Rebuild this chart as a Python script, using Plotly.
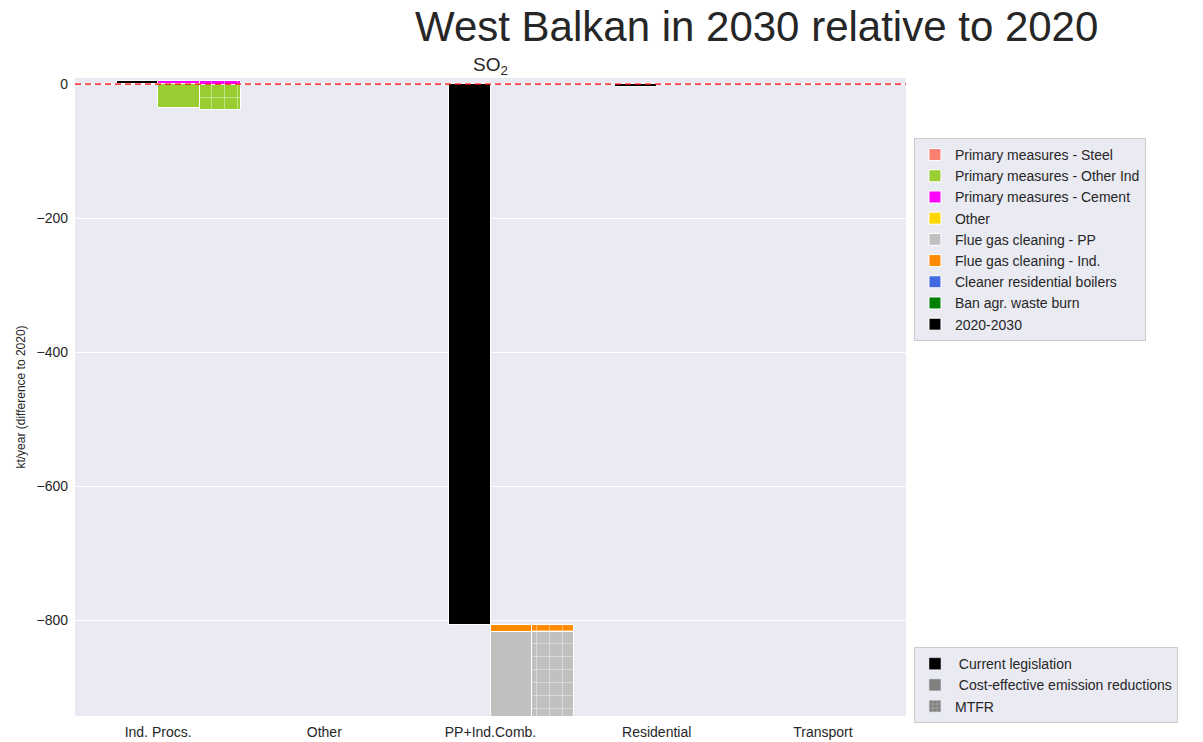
import plotly.graph_objects as go

# Sectors on the x axis
categories = ["Ind. Procs.", "Other", "PP+Ind.Comb.", "Residential", "Transport"]

# Change 2020 -> 2030 under current legislation (kt/year)
cle_change = [5, 0, -807, -5, 0]

# Additional reductions on top of current legislation (kt/year), per measure
measure_names = [
    "Primary measures - Steel",
    "Primary measures - Other Ind",
    "Primary measures - Cement",
    "Other",
    "Flue gas cleaning - PP",
    "Flue gas cleaning - Ind.",
    "Cleaner residential boilers",
    "Ban agr. waste burn",
]
measure_colors = ["#FA8072", "#9ACD32", "#FF00FF", "#FFD700",
                  "#C0C0C0", "#FF8C00", "#4169E1", "#008000"]

# Cost-effective emission reductions
ce_steel = [0, 0, 0, 0, 0]
ce_other_ind = [-36, 0, 0, 0, 0]
ce_cement = [-5, 0, 0, 0, 0]
ce_other = [0, 0, 0, 0, 0]
ce_fgc_pp = [0, 0, -250, 0, 0]
ce_fgc_ind = [0, 0, -11, 0, 0]
ce_res_boilers = [0, 0, 0, 0, 0]
ce_agr_burn = [0, 0, 0, 0, 0]

# Maximum technically feasible reductions
mtfr_steel = [0, 0, 0, 0, 0]
mtfr_other_ind = [-37.5, 0, 0, 0, 0]
mtfr_cement = [-6.5, 0, 0, 0, 0]
mtfr_other = [0, 0, 0, 0, 0]
mtfr_fgc_pp = [0, 0, -250, 0, 0]
mtfr_fgc_ind = [0, 0, -11, 0, 0]
mtfr_res_boilers = [0, 0, 0, 0, 0]
mtfr_agr_burn = [0, 0, 0, 0, 0]

ce_values = [ce_steel, ce_other_ind, ce_cement, ce_other,
             ce_fgc_pp, ce_fgc_ind, ce_res_boilers, ce_agr_burn]
mtfr_values = [mtfr_steel, mtfr_other_ind, mtfr_cement, mtfr_other,
               mtfr_fgc_pp, mtfr_fgc_ind, mtfr_res_boilers, mtfr_agr_burn]

BG = "#EAEAF2"
TXT = "#262626"
FONT = "Liberation Sans, Arial, sans-serif"
BAR_W = 0.25
xpos = list(range(len(categories)))

fig = go.Figure()

# Current legislation bars (left of each sector tick)
fig.add_trace(go.Bar(
    x=[p - BAR_W / 2 for p in xpos], y=cle_change, width=BAR_W,
    marker=dict(color="black", line=dict(color="white", width=1)),
    name="2020-2030", legend="legend", showlegend=False,
))


def add_stack(values, offset, hatched):
    # Stack measures downward starting from the current-legislation level,
    # last measure in the list on top
    level = list(cle_change)
    for i in reversed(range(len(values))):
        vals = values[i]
        ys, bases, xs = [], [], []
        for k, v in enumerate(vals):
            xs.append(xpos[k] + offset)
            if v == 0:
                ys.append(None)
                bases.append(None)
            else:
                ys.append(v)
                bases.append(level[k])
                level[k] += v
        if hatched:
            marker = dict(color=measure_colors[i],
                          line=dict(color="white", width=1),
                          pattern=dict(shape="+", bgcolor=measure_colors[i],
                                       fgcolor="white", size=13, solidity=0.12))
        else:
            marker = dict(color=measure_colors[i],
                          line=dict(color="white", width=1))
        fig.add_trace(go.Bar(
            x=xs, y=ys, base=bases, width=BAR_W, marker=marker,
            name=measure_names[i], legend="legend", showlegend=False,
        ))


add_stack(ce_values, BAR_W / 2, False)
add_stack(mtfr_values, 3 * BAR_W / 2, True)

# Measure legend (first box)
for name, color in zip(measure_names, measure_colors):
    fig.add_trace(go.Bar(x=[None], y=[None], name=name, legend="legend",
                         marker=dict(color=color, line=dict(color="white", width=1))))
fig.add_trace(go.Bar(x=[None], y=[None], name="2020-2030", legend="legend",
                     marker=dict(color="black", line=dict(color="white", width=1))))

# Scenario legend (second box)
fig.add_trace(go.Bar(x=[None], y=[None], name=" Current legislation", legend="legend2",
                     marker=dict(color="black")))
fig.add_trace(go.Bar(x=[None], y=[None], name=" Cost-effective emission reductions",
                     legend="legend2", marker=dict(color="#808080")))
fig.add_trace(go.Bar(x=[None], y=[None], name="MTFR", legend="legend2",
                     marker=dict(color="#808080",
                                 pattern=dict(shape="+", bgcolor="#808080",
                                              fgcolor="white", size=5, solidity=0.2))))

# Zero reference line
fig.add_shape(type="line", xref="paper", x0=0, x1=1, yref="y", y0=0, y1=0,
              line=dict(color="#FF0000", width=1.3, dash="6px,4px"), layer="above")

fig.update_layout(
    width=1203, height=742,
    margin=dict(l=75, r=297, t=78, b=26),
    paper_bgcolor="white", plot_bgcolor=BG,
    font=dict(family=FONT, color=TXT, size=14),
    barmode="overlay", bargap=0,
    title=dict(text="West Balkan in 2030 relative to 2020",
               x=0.629, xanchor="center", y=0.965, yanchor="middle",
               font=dict(size=42, color=TXT, family=FONT)),
    xaxis=dict(range=[-0.5, 4.5], tickvals=xpos, ticktext=categories,
               showgrid=False, zeroline=False, ticks="", showline=False,
               automargin=False, ticklabelstandoff=6,
               tickfont=dict(size=14, color=TXT)),
    yaxis=dict(range=[-943, 9], tickvals=[0, -200, -400, -600, -800],
               showgrid=True, gridcolor="white", gridwidth=1, zeroline=False,
               ticks="", showline=False, automargin=False, ticklabelstandoff=6,
               tickfont=dict(size=14, color=TXT),
               title=dict(text="kt/year (difference to 2020)",
                          font=dict(size=12, color=TXT), standoff=8)),
    legend=dict(x=1.0096, xanchor="left", y=0.906, yanchor="top",
                bgcolor=BG, bordercolor="#CCCCCC", borderwidth=1,
                font=dict(size=14, color=TXT), traceorder="normal"),
    legend2=dict(x=1.0096, xanchor="left", y=0.108, yanchor="top",
                 bgcolor=BG, bordercolor="#CCCCCC", borderwidth=1,
                 font=dict(size=14, color=TXT), traceorder="normal"),
    annotations=[dict(text="SO<sub>2</sub>", xref="paper", yref="paper",
                      x=0.5, y=1.0, yanchor="bottom", yshift=-2, showarrow=False,
                      font=dict(size=19, color=TXT, family=FONT))],
)

fig.write_html("out.html")
